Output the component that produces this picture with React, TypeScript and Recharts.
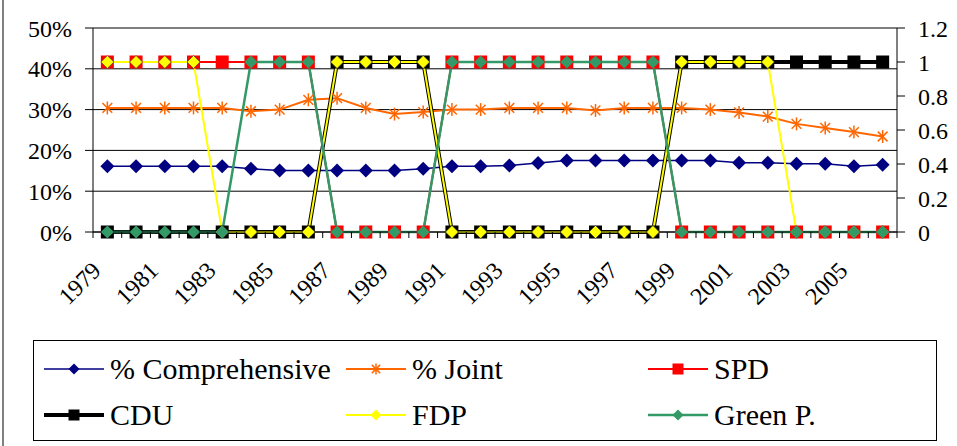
import React from 'react';
import { LineChart, Line, XAxis, YAxis, CartesianGrid } from 'recharts';

const years = [
  '1979', '1980', '1981', '1982', '1983', '1984', '1985', '1986', '1987', '1988',
  '1989', '1990', '1991', '1992', '1993', '1994', '1995', '1996', '1997', '1998',
  '1999', '2000', '2001', '2002', '2003', '2004', '2005', '2006',
];

// % series (left axis)
const comprehensive = [
  16.1, 16.1, 16.1, 16.1, 16.1, 15.5, 15.1, 15.1, 15.1, 15.1,
  15.1, 15.5, 16.1, 16.1, 16.3, 16.9, 17.5, 17.5, 17.5, 17.5,
  17.5, 17.5, 17.0, 17.0, 16.7, 16.7, 16.1, 16.5,
];
const joint = [
  30.4, 30.4, 30.4, 30.4, 30.4, 29.6, 30.0, 32.4, 32.8, 30.4,
  28.9, 29.4, 30.0, 30.0, 30.4, 30.4, 30.4, 29.8, 30.4, 30.4,
  30.4, 30.0, 29.3, 28.3, 26.5, 25.5, 24.5, 23.4,
];

// party in government (right axis, 0/1)
const spd = [1, 1, 1, 1, 1, 1, 1, 1, 0, 0, 0, 0, 1, 1, 1, 1, 1, 1, 1, 1, 0, 0, 0, 0, 0, 0, 0, 0];
const cdu = [0, 0, 0, 0, 0, 0, 0, 0, 1, 1, 1, 1, 0, 0, 0, 0, 0, 0, 0, 0, 1, 1, 1, 1, 1, 1, 1, 1];
const fdp = [1, 1, 1, 1, 0, 0, 0, 0, 1, 1, 1, 1, 0, 0, 0, 0, 0, 0, 0, 0, 1, 1, 1, 1, 0, 0, 0, 0];
const green = [0, 0, 0, 0, 0, 1, 1, 1, 0, 0, 0, 0, 1, 1, 1, 1, 1, 1, 1, 1, 0, 0, 0, 0, 0, 0, 0, 0];

const leftTicks = [0, 10, 20, 30, 40, 50];
const rightTicks = [0, 0.2, 0.4, 0.6, 0.8, 1, 1.2];

const W = 957;
const H = 446;
const LEFT_W = 93;
const RIGHT_W = 60;
const TOP = 28;
const X_AXIS_H = 214;
const STEP = (W - LEFT_W - RIGHT_W) / years.length;
const FONT = '"Liberation Serif", Tinos, "DejaVu Serif", "Noto Serif", "Times New Roman", Times, serif';

const data = years.map((year, i) => ({
  year,
  comp: comprehensive[i],
  joint: joint[i],
  spd: spd[i],
  cdu: cdu[i],
  fdp: fdp[i],
  green: green[i],
}));

type Kind = 'diamond' | 'star' | 'square';

interface MarkerProps {
  cx: number;
  cy: number;
  kind: Kind;
  r: number;
  fill: string;
  stroke?: string;
  sw?: number;
}

const Marker = ({ cx, cy, kind, r, fill, stroke, sw }: MarkerProps) => {
  if (cx == null || cy == null) return null;
  if (kind === 'square') {
    return <rect x={cx - r} y={cy - r} width={r * 2} height={r * 2} fill={fill} />;
  }
  if (kind === 'star') {
    const d = r * 0.75;
    return (
      <g stroke={fill} strokeWidth={1.5}>
        <line x1={cx} y1={cy - r} x2={cx} y2={cy + r} />
        <line x1={cx - d} y1={cy - d} x2={cx + d} y2={cy + d} />
        <line x1={cx - d} y1={cy + d} x2={cx + d} y2={cy - d} />
      </g>
    );
  }
  return (
    <polygon
      points={`${cx},${cy - r} ${cx + r},${cy} ${cx},${cy + r} ${cx - r},${cy}`}
      fill={fill}
      stroke={stroke || 'none'}
      strokeWidth={sw || 0}
    />
  );
};

const series = [
  { key: 'comp', name: '% Comprehensive', axis: 'left', color: '#000080', width: 1.5, kind: 'diamond' as Kind, r: 7, lr: 5.5 },
  { key: 'joint', name: '% Joint', axis: 'left', color: '#FF6600', width: 2, kind: 'star' as Kind, r: 6.5, lr: 5.5 },
  { key: 'spd', name: 'SPD', axis: 'right', color: '#FF0000', width: 2, kind: 'square' as Kind, r: 6.5, lr: 5.5 },
  { key: 'cdu', name: 'CDU', axis: 'right', color: '#000000', width: 4, kind: 'square' as Kind, r: 6.5, lr: 5.5 },
  { key: 'fdp', name: 'FDP', axis: 'right', color: '#FFFF00', width: 2, kind: 'diamond' as Kind, r: 6.5, lr: 5.5, outline: '#333' },
  { key: 'green', name: 'Green P.', axis: 'right', color: '#339966', width: 2.5, kind: 'diamond' as Kind, r: 6.5, lr: 5.5 },
];

const YearTick = (props: any) => {
  const { x, y, index, payload } = props;
  const h = STEP / 2;
  const tx = x - 5;
  const ty = y + 40;
  return (
    <g>
      <line x1={x - h} x2={x - h} y1={y} y2={y + 6} stroke="#000" />
      {index === years.length - 1 && <line x1={x + h} x2={x + h} y1={y} y2={y + 6} stroke="#000" />}
      {index % 2 === 0 && (
        <text
          x={tx}
          y={ty}
          textAnchor="end"
          fontSize={24}
          fontFamily={FONT}
          fill="#000"
          transform={`rotate(-45, ${tx}, ${ty})`}
        >
          {payload.value}
        </text>
      )}
    </g>
  );
};

const ChartLegend = () => (
  <div
    style={{
      position: 'absolute',
      left: 33,
      top: 340,
      width: 904,
      height: 101,
      boxSizing: 'border-box',
      border: '1.5px solid #000',
      fontFamily: FONT,
    }}
  >
    {series.map((s, i) => (
      <div
        key={s.key}
        style={{
          position: 'absolute',
          left: 10 + (i % 3) * 302,
          top: (i < 3 ? 28 : 74) - 20,
          height: 40,
          display: 'flex',
          alignItems: 'center',
          whiteSpace: 'nowrap',
        }}
      >
        <svg width={60} height={20} style={{ display: 'block' }}>
          <line x1={0} x2={60} y1={10} y2={10} stroke={s.color} strokeWidth={s.width} />
          <Marker cx={30} cy={10} kind={s.kind} r={s.lr} fill={s.color} />
        </svg>
        <span style={{ fontSize: 30, marginLeft: 6, color: '#000', lineHeight: '40px' }}>{s.name}</span>
      </div>
    ))}
  </div>
);

export default function App() {
  return (
    <div style={{ position: 'absolute', left: 0, top: 0, width: W, height: H, background: '#fff', fontFamily: FONT }}>
      <div style={{ position: 'absolute', left: 2, top: 0, width: 2, height: H, background: '#808080' }} />
      <LineChart width={W} height={H} data={data} margin={{ top: TOP, right: 0, bottom: 0, left: 0 }}>
        <CartesianGrid yAxisId="left" vertical={false} stroke="#000" strokeWidth={1} />
        <XAxis
          dataKey="year"
          interval={0}
          height={X_AXIS_H}
          tickSize={0}
          tickMargin={0}
          tickLine={false}
          axisLine={{ stroke: '#000' }}
          padding={{ left: STEP / 2, right: STEP / 2 }}
          tick={YearTick}
        />
        <YAxis
          yAxisId="left"
          width={LEFT_W}
          domain={[0, 50]}
          ticks={leftTicks}
          tickFormatter={(v: number) => `${v}%`}
          tickSize={8}
          tickMargin={13}
          axisLine={{ stroke: '#000' }}
          tickLine={{ stroke: '#000' }}
          tick={{ fontSize: 24, fontFamily: FONT, fill: '#000' }}
        />
        <YAxis
          yAxisId="right"
          orientation="right"
          width={RIGHT_W}
          domain={[0, 1.2]}
          ticks={rightTicks}
          tickSize={8}
          tickMargin={13}
          axisLine={{ stroke: '#000' }}
          tickLine={{ stroke: '#000' }}
          tick={{ fontSize: 24, fontFamily: FONT, fill: '#000' }}
        />
        {series.map((s) => (
          <Line
            key={s.key}
            yAxisId={s.axis}
            type="linear"
            dataKey={s.key}
            name={s.name}
            stroke={s.color}
            strokeWidth={s.width}
            isAnimationActive={false}
            activeDot={false}
            dot={(p: any) => (
              <Marker
                key={`${s.key}-${p.index}`}
                cx={p.cx}
                cy={p.cy}
                kind={s.kind}
                r={s.r}
                fill={s.color}
                stroke={s.outline}
                sw={s.outline ? 0.6 : 0}
              />
            )}
          />
        ))}
      </LineChart>
      <ChartLegend />
    </div>
  );
}
